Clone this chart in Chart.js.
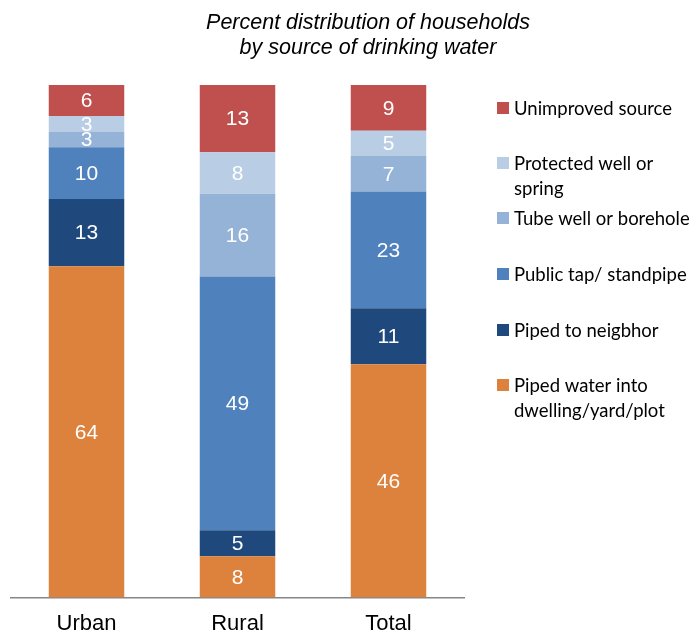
<!DOCTYPE html>
<html>
<head>
<meta charset="utf-8">
<script src="https://cdn.jsdelivr.net/npm/chart.js@4/dist/chart.umd.min.js"></script>
<style>
  html, body { margin: 0; padding: 0; background: #fff; }
  #wrap { width: 693px; height: 633px; position: relative; }
</style>
</head>
<body>
<div id="wrap"><canvas id="myChart"></canvas></div>
<script>
const categories = ["Urban", "Rural", "Total"]

// percent values as printed on the bars
const pipedDwelling = [64, 8, 46]
const pipedNeighbor = [13, 5, 11]
const publicTap = [10, 49, 23]
const tubeWell = [3, 16, 7]
const protectedWell = [3, 8, 5]
const unimproved = [6, 13, 9]

const seriesNames = [
    ["Piped water into", "dwelling/yard/plot"],
    ["Piped to neigbhor"],
    ["Public tap/ standpipe"],
    ["Tube well or borehole"],
    ["Protected well or", "spring"],
    ["Unimproved source"],
]
const seriesValues = [pipedDwelling, pipedNeighbor, publicTap, tubeWell, protectedWell, unimproved]
const seriesColors = ["#DD823D", "#1F497D", "#4F81BD", "#95B3D7", "#B9CDE5", "#C0504D"]

// rounded values don't add to exactly 100, so each bar is scaled to fill 100%
const totals = categories.map((c, i) => seriesValues.reduce((s, arr) => s + arr[i], 0))

const ctx = document.getElementById("myChart").getContext("2d")

// white value labels centred in each segment
const segmentLabels = {
    id: "segmentLabels",
    afterDatasetsDraw(chart) {
        const c = chart.ctx
        c.save()
        c.fillStyle = "#fff"
        c.font = "21px 'Liberation Sans', Arial, sans-serif"
        c.textAlign = "center"
        c.textBaseline = "middle"
        chart.data.datasets.forEach((ds, di) => {
            chart.getDatasetMeta(di).data.forEach((bar, i) => {
                const mid = (bar.y + bar.base) / 2
                c.fillText(String(ds.raw[i]), bar.x, mid + 1)
            })
        })
        c.restore()
    },
}

// title and wrapped legend on the right
const sideText = {
    id: "sideText",
    afterDraw(chart) {
        const c = chart.ctx
        c.save()
        c.fillStyle = "#000"
        c.font = "italic 21.5px 'Liberation Sans', Arial, sans-serif"
        c.textAlign = "center"
        c.textBaseline = "middle"
        c.fillText("Percent distribution of households", 368, 23)
        c.fillText("by source of drinking water", 368, 48)

        const rowY = [385, 330, 274, 218, 163, 108]
        c.font = "18.5px Lato, 'Open Sans', sans-serif"
        c.textAlign = "left"
        seriesNames.forEach((lines, k) => {
            c.fillStyle = seriesColors[k]
            c.fillRect(497, rowY[k] - 6, 12, 12)
            c.fillStyle = "#000"
            lines.forEach((t, j) => c.fillText(t, 514, rowY[k] + j * 25 + 1))
        })
        c.restore()
    },
}

const myChart = new Chart(ctx, {
    type: "bar",
    data: {
        labels: categories,
        datasets: seriesValues.map((vals, k) => ({
            label: seriesNames[k].join(" "),
            data: vals.map((v, i) => (v / totals[i]) * 100),
            raw: vals,
            backgroundColor: seriesColors[k],
            borderWidth: 0,
            barPercentage: 1,
            categoryPercentage: 0.5,
        })),
    },
    options: {
        responsive: true,
        maintainAspectRatio: false,
        animation: false,
        layout: {
            padding: { top: 85, left: 11, right: 229, bottom: -17 },
        },
        scales: {
            x: {
                stacked: true,
                grid: { display: false, drawTicks: false },
                border: { color: "#868686", width: 1.5 },
                ticks: {
                    color: "#000",
                    padding: 13,
                    font: { family: "'Liberation Sans', Arial, sans-serif", size: 22 },
                },
            },
            y: {
                stacked: true,
                display: false,
                min: 0,
                max: 100,
            },
        },
        plugins: {
            legend: { display: false },
            tooltip: { enabled: false },
        },
    },
    plugins: [segmentLabels, sideText],
})
</script>
</body>
</html>
